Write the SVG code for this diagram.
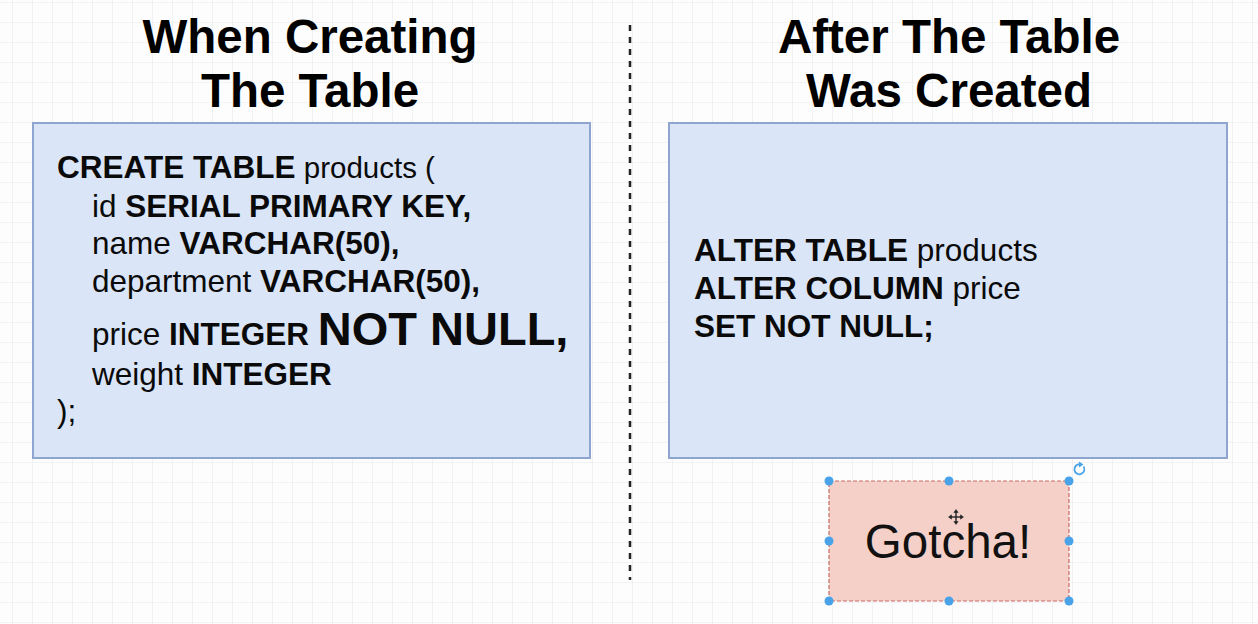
<svg xmlns="http://www.w3.org/2000/svg" width="1258" height="624" viewBox="0 0 1258 624">
<defs>
<pattern id="grid" x="12" y="2" width="20" height="20" patternUnits="userSpaceOnUse">
<path d="M0 0H20M0 0V20" fill="none" stroke="#e8eaed" stroke-width="1.2"/>
</pattern>
<style>
.title{font-family:"Liberation Sans",Arial,sans-serif;font-weight:bold;font-size:47.5px;fill:#000;text-anchor:middle}
.code{font-family:"Liberation Sans",Arial,sans-serif;font-size:31.5px;fill:#0a0a0a}
.b{font-weight:bold}
.box{fill:#dae5f7;stroke:#8ea6cf;stroke-width:2}
.handle{fill:#4aa3e8}
</style>
</defs>
<rect width="1258" height="624" fill="#fdfdfd"/>
<rect width="1258" height="624" fill="url(#grid)"/>

<g id="title-left">
<text class="title" x="310" y="53">When Creating</text>
<text class="title" x="310" y="107">The Table</text>
</g>
<g id="title-right">
<text class="title" x="949" y="53">After The Table</text>
<text class="title" x="949" y="107">Was Created</text>
</g>

<g id="connectors">
<line x1="630" y1="25" x2="630" y2="580" stroke="#222" stroke-width="2.5" stroke-dasharray="6 6"/>
</g>

<g id="create-box">
<rect class="box" x="33" y="123" width="557" height="335"/>
<text class="code" x="57" y="178"><tspan class="b">CREATE TABLE</tspan><tspan font-size="29.5"> products (</tspan></text>
<text class="code" x="92" y="217">id <tspan class="b">SERIAL PRIMARY KEY,</tspan></text>
<text class="code" x="92" y="254">name <tspan class="b">VARCHAR(50),</tspan></text>
<text class="code" x="92" y="292">department <tspan class="b">VARCHAR(50),</tspan></text>
<text class="code" x="92" y="345">price <tspan class="b">INTEGER </tspan><tspan class="b" font-size="47">NOT NULL,</tspan></text>
<text class="code" x="92" y="385">weight <tspan class="b">INTEGER</tspan></text>
<text class="code" x="57" y="422">);</text>
</g>

<g id="alter-box">
<rect class="box" x="669" y="123" width="558" height="335"/>
<text class="code" x="694" y="261"><tspan class="b">ALTER TABLE</tspan> products</text>
<text class="code" x="694" y="299"><tspan class="b">ALTER COLUMN</tspan> price</text>
<text class="code" x="694" y="337"><tspan class="b">SET NOT NULL;</tspan></text>
</g>

<g id="gotcha">
<rect x="829" y="481" width="240" height="120" fill="#f4d0c8" stroke="#c96a66" stroke-width="1.2" stroke-dasharray="4 2"/>
<text x="948" y="558" font-family="'Liberation Sans',Arial,sans-serif" font-size="47.5" text-anchor="middle" fill="#111">Gotcha!</text>
<circle class="handle" cx="829" cy="481" r="4.5"/>
<circle class="handle" cx="949" cy="481" r="4.5"/>
<circle class="handle" cx="1069" cy="481" r="4.5"/>
<circle class="handle" cx="829" cy="541" r="4.5"/>
<circle class="handle" cx="1069" cy="541" r="4.5"/>
<circle class="handle" cx="829" cy="601" r="4.5"/>
<circle class="handle" cx="949" cy="601" r="4.5"/>
<circle class="handle" cx="1069" cy="601" r="4.5"/>
<path d="M1083.6 466.5 A5 5 0 1 1 1080 464.3" fill="none" stroke="#4aa3e8" stroke-width="1.8"/>
<path d="M1079 461.5 L1083.5 464.5 L1079 467.5 Z" fill="#4aa3e8"/>
<g stroke="#222" stroke-width="1.4" fill="#222">
<line x1="950" y1="517" x2="962" y2="517"/>
<line x1="956" y1="511" x2="956" y2="523"/>
<path d="M956 509.5 L953.8 512.5 H958.2 Z M956 524.5 L953.8 521.5 H958.2 Z M948.5 517 L951.5 514.8 V519.2 Z M963.5 517 L960.5 514.8 V519.2 Z" stroke-width="0.5"/>
</g>
</g>
</svg>
